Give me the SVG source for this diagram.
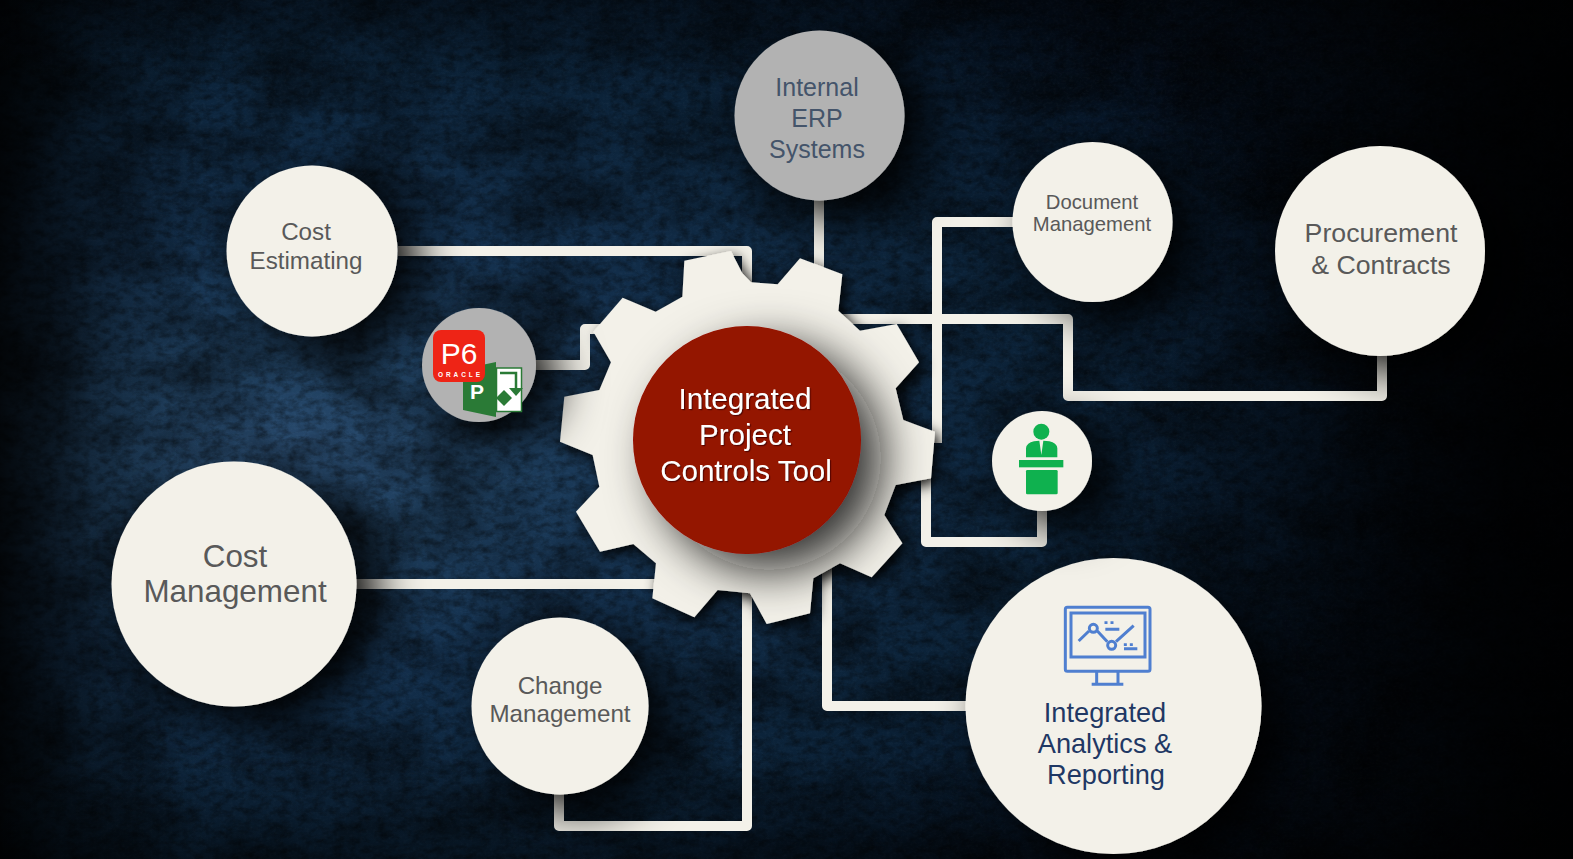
<svg xmlns="http://www.w3.org/2000/svg" width="1573" height="859" viewBox="0 0 1573 859">
<style>
.ln{fill:none;stroke:#f3f1e9;stroke-width:10;stroke-linejoin:round}
.c{fill:#f3f1e9;filter:url(#sh)}
.g{fill:#b2b2b2;filter:url(#sh)}
text{font-family:"Liberation Sans",Arial,sans-serif;text-anchor:middle}
.t{fill:#595959}
.n{fill:#1f3864}
.w{fill:#fff;font-size:29.5px;filter:url(#ts)}
.bl{fill:none;stroke:#4f7fd0;stroke-width:9}
</style>
<defs>
<radialGradient id="bg" gradientUnits="userSpaceOnUse" cx="0" cy="0" r="1" gradientTransform="translate(290 450) scale(1120 580)">
<stop offset="0" stop-color="#28496c"/><stop offset=".16" stop-color="#1f4060"/><stop offset=".38" stop-color="#132f4c"/><stop offset=".68" stop-color="#0b2238"/><stop offset=".92" stop-color="#061628"/><stop offset="1" stop-color="#030c18"/>
</radialGradient>
<linearGradient id="ed" x1="0" x2="1" y1="0" y2="0"><stop offset="0" stop-color="#000" stop-opacity=".85"/><stop offset=".06" stop-color="#000" stop-opacity=".35"/><stop offset=".13" stop-color="#000" stop-opacity="0"/><stop offset=".72" stop-color="#000" stop-opacity="0"/><stop offset=".96" stop-color="#000" stop-opacity=".85"/><stop offset="1" stop-color="#000" stop-opacity=".9"/></linearGradient>
<linearGradient id="et" x1="0" x2="0" y1="0" y2="1"><stop offset="0" stop-color="#000" stop-opacity=".3"/><stop offset=".1" stop-color="#000" stop-opacity="0"/><stop offset=".88" stop-color="#000" stop-opacity="0"/><stop offset="1" stop-color="#000" stop-opacity=".4"/></linearGradient>
<filter id="tx" x="0" y="0" width="100%" height="100%"><feTurbulence type="fractalNoise" baseFrequency=".09 .13" numOctaves="4" seed="11"/><feColorMatrix values="0 0 0 0 0 0 0 0 0 0 0 0 0 0 0 .9 0 0 0 -.34"/></filter>
<filter id="tb" x="0" y="0" width="100%" height="100%"><feTurbulence type="fractalNoise" baseFrequency=".012 .018" numOctaves="3" seed="3"/><feColorMatrix values="0 0 0 0 0 0 0 0 0 0 0 0 0 0 0 1.1 0 0 0 -.42"/></filter>
<filter id="tl" x="0" y="0" width="100%" height="100%"><feTurbulence type="fractalNoise" baseFrequency=".3 .4" numOctaves="3" seed="4"/><feColorMatrix values="0 0 0 0 .55 0 0 0 0 .7 0 0 0 0 .85 .7 0 0 0 -.3"/></filter>
<filter id="sh" x="-60%" y="-60%" width="240%" height="240%"><feDropShadow dx="20" dy="15" stdDeviation="24" flood-color="#000" flood-opacity="1"/></filter>
<filter id="gs" x="-25%" y="-25%" width="150%" height="150%"><feDropShadow dx="14" dy="14" stdDeviation="20" flood-color="#000" flood-opacity=".95"/></filter>
<filter id="rs" x="-50%" y="-50%" width="220%" height="220%"><feDropShadow dx="22" dy="18" stdDeviation="24" flood-color="#0c0c0c" flood-opacity=".85"/></filter>
<filter id="ts"><feDropShadow dx="1.2" dy="1.2" stdDeviation=".4" flood-color="#400" flood-opacity=".8"/></filter>
</defs>
<rect width="1573" height="859" fill="url(#bg)"/>
<rect width="1573" height="859" filter="url(#tb)"/>
<rect width="1573" height="859" filter="url(#tx)"/>
<rect width="1573" height="859" filter="url(#tl)" opacity=".1"/>
<rect width="1573" height="859" fill="url(#ed)"/>
<rect width="1573" height="859" fill="url(#et)"/>
<g id="connectors">
<path class="ln" d="M398 251H747V290"/>
<path class="ln" d="M819 200V275"/>
<path class="ln" d="M535 365H585V329H605"/>
<path class="ln" d="M1015 222H937V443"/>
<path class="ln" d="M840 319H1068V396H1382V355"/>
<path class="ln" d="M926 470V542H1042V505"/>
<path class="ln" d="M355 584H660"/>
<path class="ln" d="M747 590V826H559V790"/>
<path class="ln" d="M827 565V706H970"/>
</g>
<g id="gear">
<polygon transform="translate(550 240) scale(.33333)" fill="#f3f1e9" filter="url(#gs)" points="403,62 543,33 577,100 603,127 683,133 750,55 877,103 865,212 930,272 1040,252 1107,367 1037,445 1060,540 1155,575 1143,715 1037,735 1003,825 1057,910 965,1012 870,970 790,1015 780,1120 650,1152 600,1060 503,1050 433,1132 307,1075 318,970 250,912 150,935 78,815 148,740 128,645 30,605 43,470 148,450 183,367 130,275 218,173 317,215 397,170"/>
<circle cx="747" cy="440" r="114" fill="#941200" filter="url(#rs)"/>
<text class="w" x="745" y="409">Integrated</text>
<text class="w" x="745" y="445">Project</text>
<text class="w" x="746" y="481">Controls Tool</text>
</g>
<g id="erp"><circle class="g" cx="819.5" cy="115.5" r="85"/><g fill="#44546a" font-size="25"><text x="817" y="96">Internal</text><text x="817" y="127">ERP</text><text x="817" y="158">Systems</text></g></g>
<g id="cost-estimating"><circle class="c" cx="312" cy="251" r="85.5"/><g class="t" font-size="24.2"><text x="306" y="240">Cost</text><text x="306" y="269">Estimating</text></g></g>
<g id="p6"><circle class="g" cx="479" cy="365" r="57"/>
<polygon points="463,369 496,362 496,417 463,410" fill="#2a7a36"/>
<rect x="496.5" y="368" width="25" height="43.5" fill="#fff" stroke="#2a7a36" stroke-width="1.5"/>
<text x="477" y="399" fill="#fff" font-size="21" font-weight="bold">P</text>
<polygon points="504,406 496,398 504,390 512,398" fill="#2a7a36"/>
<path d="M500 373H516V389" fill="none" stroke="#2a7a36" stroke-width="2.5"/>
<polygon points="509,388 523,388 516,396" fill="#2a7a36"/>
<rect x="433" y="330" width="52" height="52" rx="8" fill="#ee2416"/>
<text x="459" y="364" fill="#fff" font-size="30">P6</text>
<text x="459" y="377" fill="#fff" font-size="6.5" font-weight="bold" textLength="42">ORACLE</text>
</g>
<g id="cost-management"><circle class="c" cx="234" cy="584" r="122.5"/><g class="t" font-size="31.4"><text x="235" y="567">Cost</text><text x="235" y="602">Management</text></g></g>
<g id="change-management"><circle class="c" cx="560" cy="706" r="88.5"/><g class="t" font-size="24.2"><text x="560" y="694">Change</text><text x="560" y="722">Management</text></g></g>
<g id="analytics"><circle class="c" cx="1113.5" cy="706" r="148"/>
<g transform="translate(980 400) scale(.33333)">
<rect class="bl" x="256" y="622" width="254" height="192" rx="6"/>
<rect class="bl" x="273" y="639" width="222" height="132"/>
<path class="bl" d="M296 723L327 693M352 693L382 725M408 725L461 677M350 815V852M414 815V852M335 853H430M376 688H418M432 746H472M378 664V672M396 664V672M436 730V738M454 730V738"/>
<circle class="bl" cx="340" cy="685" r="12"/><circle class="bl" cx="395" cy="736" r="12"/>
</g>
<g class="n" font-size="27.2"><text x="1105" y="722">Integrated</text><text x="1105" y="753">Analytics &amp;</text><text x="1106" y="784">Reporting</text></g></g>
<g id="document-management"><circle class="c" cx="1092.5" cy="222" r="80"/><g class="t" font-size="20.3"><text x="1092" y="209">Document</text><text x="1092" y="231">Management</text></g></g>
<g id="procurement"><circle class="c" cx="1380" cy="251" r="105"/><g class="t" font-size="26.7"><text x="1381" y="242">Procurement</text><text x="1381" y="274">&amp; Contracts</text></g></g>
<g id="speaker"><circle class="c" cx="1042" cy="461" r="50"/>
<g transform="translate(980 400) scale(.33333)" fill="#0fb14f">
<circle cx="184" cy="95" r="24"/>
<path d="M138 172V145Q140 128 162 124L178 122L184 165L190 122L208 124Q230 128 232 145V172Z"/>
<rect x="117" y="180" width="133" height="22"/>
<rect x="138" y="210" width="95" height="73" rx="4"/>
</g></g>
</svg>
